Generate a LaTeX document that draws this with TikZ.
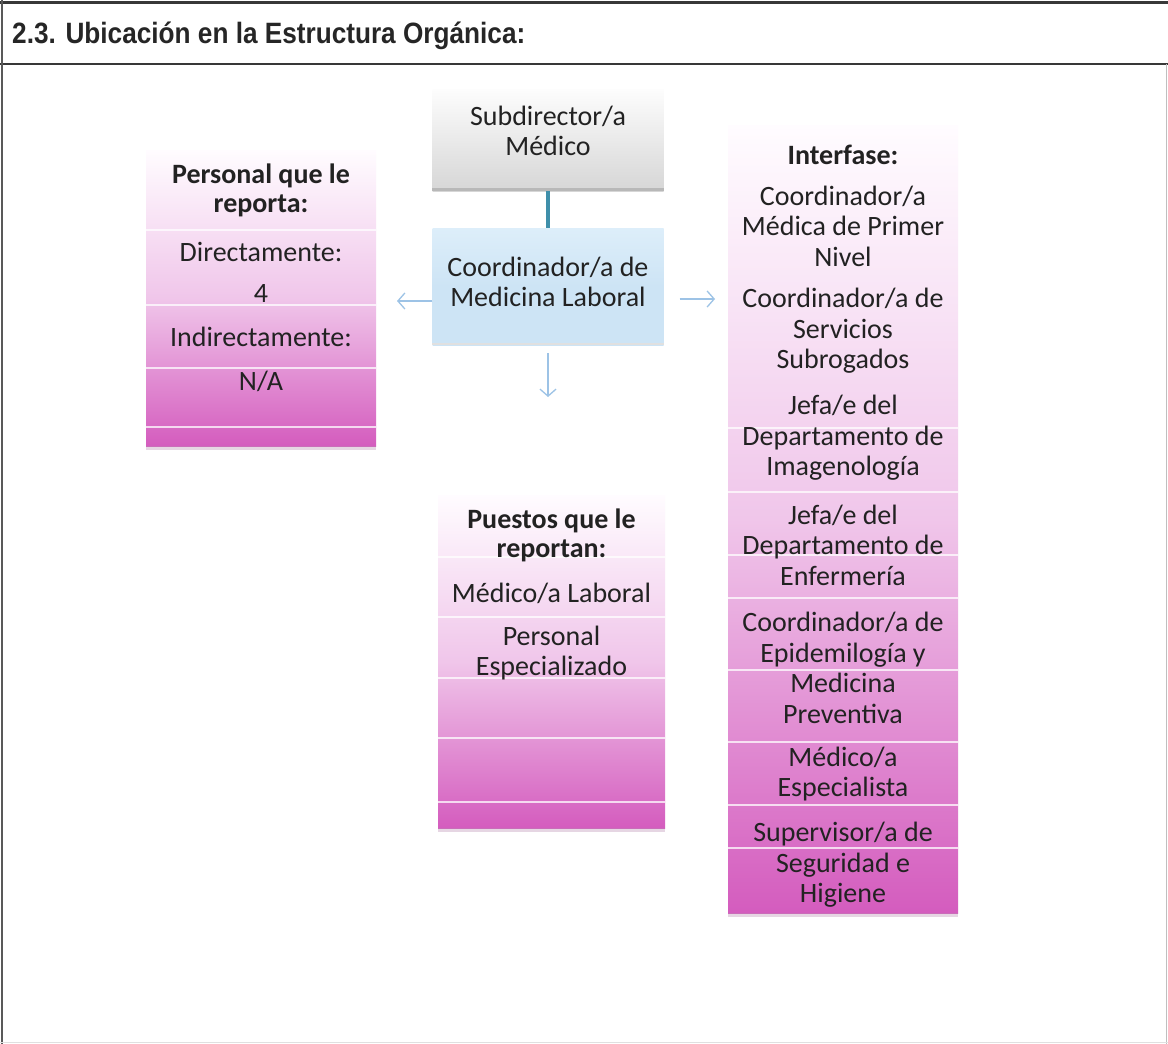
\documentclass[tikz,border=0pt]{standalone}
\usepackage{fontspec}
\usepackage{graphicx}
\setmainfont{Carlito}
\newfontfamily\titlefont{Liberation Sans}
\usetikzlibrary{arrows.meta}
\definecolor{txt}{HTML}{222222}
\definecolor{pinkTop}{HTML}{FFFCFF}
\definecolor{pinkMid}{HTML}{F0C6EA}
\definecolor{pinkBot}{HTML}{D45CBE}
\definecolor{grayTop}{HTML}{FDFDFD}
\definecolor{grayBot}{HTML}{D6D6D6}
\definecolor{blueBox}{HTML}{CDE4F5}
\definecolor{blueTop}{HTML}{DDEEFA}
\definecolor{arrowblue}{HTML}{9DC3E6}
\definecolor{teal}{HTML}{3F8FAA}
\definecolor{shadowpink}{HTML}{B98AB0}
\begin{document}
\begin{tikzpicture}[x=1pt,y=-1pt,
  lbl/.style={text=txt, align=center, font=\fontsize{28}{30.5}\selectfont, inner sep=0pt},
  hdr/.style={text=txt, align=center, font=\fontsize{28}{29}\selectfont\bfseries, inner sep=0pt},
  pinkbox/.style={draw=none, minimum width=230pt, inner sep=0pt, top color=pinkTop, bottom color=pinkBot, middle color=pinkMid},
  sepline/.style={white, line width=2pt, opacity=0.75},
  arr/.style={draw=arrowblue, line width=1.3pt, -{Straight Barb[length=7pt,width=16pt]}},
  frameline/.style={line width=2.5pt, color=black!78}
]
\useasboundingbox (0,0) rectangle (1168,1044);
\fill[white] (0,0) rectangle (1168,1044);

% frame
\draw[frameline, line width=3pt] (0,2) -- (1168,2);
\draw[frameline] (0,64) -- (1168,64);
\draw[line width=2pt, color=black!65] (2,0) -- (2,1044);
\draw[line width=1pt, color=black!25] (1166,64) -- (1166,1044);
\draw[line width=1pt, color=black!12] (0,1042) -- (1168,1042);

% title
\node[anchor=base west, inner sep=0pt, text=black!85] (title) at (12,43)
  {\scalebox{0.935}[1.05]{\titlefont\bfseries\fontsize{28}{30}\selectfont 2.3. Ubicación en la Estructura Orgánica:}};

% top boxes
\node[draw=none, minimum width=231pt, minimum height=102pt, inner sep=0pt,
      top color=grayTop, bottom color=grayBot] (sub) at (548,140) {};
\fill[black!28] ([yshift=3pt]sub.south west) rectangle (sub.south east);
\node[lbl] (subtxt) at (548,131) {Subdirector/a\\Médico};

\node[draw=none, minimum width=231pt, minimum height=117pt, inner sep=0pt,
      top color=blueTop, bottom color=blueBox, middle color=blueBox] (coord) at (548,286.5) {};
\fill[black!12] ([yshift=2pt]coord.south west) rectangle (coord.south east);
\node[lbl] (coordtxt) at (548,282) {Coordinador/a de\\Medicina Laboral};

\draw[teal, line width=4pt] (sub.south) -- (coord.north);

% left column
\node[pinkbox, minimum height=296pt] (leftcol) at (261,298) {};
\fill[shadowpink, opacity=0.35] (leftcol.south west) rectangle ([yshift=-4pt]leftcol.south east);
\foreach \yy in {230,305,368,427}
  \draw[sepline] (leftcol.west |- 0,\yy) -- (leftcol.east |- 0,\yy);
\node[hdr] (lhead) at (261,190) {Personal que le\\reporta:};
\node[lbl] (ldir) at (261,252) {Directamente:};
\node[lbl] (lfour) at (261,294) {4};
\node[lbl] (lind) at (261,337) {Indirectamente:};
\node[lbl] (lna) at (261,381) {N/A};

% middle column
\node[pinkbox, minimum width=227pt, minimum height=333pt] (midcol) at (551.5,661.5) {};
\fill[shadowpink, opacity=0.35] (midcol.south west) rectangle ([yshift=-4pt]midcol.south east);
\foreach \yy in {557,617,678,738,802}
  \draw[sepline] (midcol.west |- 0,\yy) -- (midcol.east |- 0,\yy);
\node[hdr] (mhead) at (551.5,535) {Puestos que le\\reportan:};
\node[lbl] (mmed) at (551.5,593) {Médico/a Laboral};
\node[lbl] (mper) at (551.5,653) {Personal\\Especializado};

% right column
\node[pinkbox, minimum height=788pt] (rightcol) at (843,519) {};
\fill[shadowpink, opacity=0.35] (rightcol.south west) rectangle ([yshift=-4pt]rightcol.south east);
\foreach \yy in {428,492,555,598,670,742,805,848}
  \draw[sepline] (rightcol.west |- 0,\yy) -- (rightcol.east |- 0,\yy);
\node[hdr] (rhead) at (843,155) {Interfase:};
\node[lbl] (r1) at (843,226) {Coordinador/a\\Médica de Primer\\Nivel};
\node[lbl] (r2) at (843,331) {Coordinador/a de\\Servicios\\Subrogados};
\node[lbl] (r3) at (843,438) {Jefa/e del\\Departamento de\\Imagenología};
\node[lbl] (r4) at (843,545) {Jefa/e del\\Departamento de\\Enfermería};
\node[lbl] (r5) at (843,668) {Coordinador/a de\\Epidemilogía y\\Medicina\\Preventiva};
\node[lbl] (r6) at (843,774) {Médico/a\\Especialista};
\node[lbl] (r7) at (843,865) {Supervisor/a de\\Seguridad e\\Higiene};

% arrows
\coordinate (laEnd) at (397,301);
\coordinate (raEnd) at (715,299);
\coordinate (daEnd) at (548,397);
\draw[arr] (coord.west |- laEnd) -- (laEnd);
\draw[arr, shorten <=16pt] (coord.east |- raEnd) -- (raEnd);
\draw[arr, shorten <=8pt] (coord.south) -- (daEnd);
\end{tikzpicture}
\end{document}
